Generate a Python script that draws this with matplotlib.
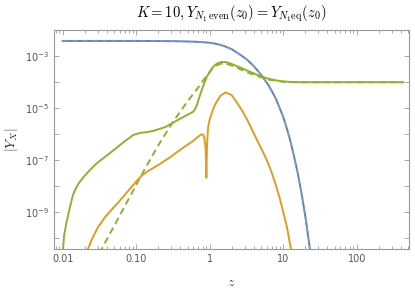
import numpy as np
import matplotlib
matplotlib.use("Agg")
import matplotlib.pyplot as plt
from matplotlib.ticker import FixedLocator, NullFormatter

# curves, as (log10 z, log10 |Y|)
blue_lz = [-2.0, -1.5, -1.0, -0.5, -0.2, 0.0, 0.1, 0.2, 0.3, 0.4, 0.5, 0.6, 0.7, 0.8, 0.9, 1.0, 1.05, 1.1, 1.15, 1.2, 1.25, 1.3, 1.35, 1.4]
blue_ly = [-2.43, -2.43, -2.43, -2.44, -2.46, -2.5, -2.55, -2.63, -2.75, -2.93, -3.13, -3.40, -3.73, -4.13, -4.65, -5.35, -5.8, -6.3, -6.9, -7.55, -8.3, -9.15, -10.15, -11.2]

green_lz = [-2.0, -1.98, -1.95, -1.9, -1.86, -1.82, -1.78, -1.72, -1.63, -1.54, -1.45, -1.3, -1.15, -1.04, -0.95, -0.85, -0.75, -0.6, -0.45, -0.3, -0.22, -0.18, -0.13, -0.08, -0.04, 0.0, 0.05, 0.1, 0.16, 0.23, 0.3, 0.37, 0.46, 0.55, 0.66, 0.78, 0.9, 1.0, 1.1, 1.2, 2.63]
green_ly = [-10.6, -9.9, -9.45, -8.81, -8.36, -8.1, -7.9, -7.68, -7.4, -7.15, -6.95, -6.62, -6.28, -6.05, -5.97, -5.94, -5.88, -5.74, -5.5, -5.27, -5.15, -4.95, -4.5, -4.1, -3.82, -3.62, -3.42, -3.3, -3.24, -3.25, -3.32, -3.4, -3.51, -3.62, -3.75, -3.87, -3.95, -3.99, -4.01, -4.02, -4.02]

gdash_lz = [-1.5, -1.3, -1.1, -0.9, -0.7, -0.5, -0.3, -0.15, -0.05, 0.05, 0.14, 0.22, 0.3, 0.45, 0.6, 0.8, 1.0, 1.2, 2.63]
gdash_ly = [-10.6, -9.55, -8.5, -7.45, -6.45, -5.55, -4.75, -4.2, -3.8, -3.45, -3.31, -3.3, -3.38, -3.56, -3.74, -3.92, -4.0, -4.02, -4.02]

orange_lz = [-1.68, -1.6, -1.52, -1.42, -1.32, -1.22, -1.1, -1.0, -0.93, -0.85, -0.75, -0.68, -0.55, -0.45, -0.33, -0.22, -0.15, -0.11, -0.085, -0.07, -0.055, -0.045, -0.038, -0.03, -0.02, 0.0, 0.03, 0.06, 0.095, 0.15, 0.22, 0.3, 0.37, 0.45, 0.52, 0.59, 0.65, 0.7, 0.75, 0.8, 0.85, 0.9, 0.95, 1.0, 1.05, 1.1, 1.12]
orange_ly = [-10.6, -10.05, -9.6, -9.2, -8.88, -8.57, -8.17, -7.84, -7.63, -7.46, -7.29, -7.17, -6.93, -6.72, -6.48, -6.27, -6.1, -6.02, -6.05, -6.2, -6.6, -7.7, -6.7, -6.1, -5.73, -5.45, -5.2, -4.97, -4.77, -4.53, -4.41, -4.52, -4.8, -5.15, -5.52, -5.93, -6.28, -6.56, -6.85, -7.17, -7.55, -7.98, -8.45, -9.0, -9.58, -10.35, -10.6]

xticks = [0.01, 0.1, 1, 10, 100]
xticklabels = ['0.01', '0.10', '1', '10', '100']
ypow_major = [-9, -7, -5, -3]
ypow_minor = [-10, -8, -6, -4, -2]

blue = '#5E81B5'
orange = '#E19C24'
green = '#8FB032'

fig = plt.figure(figsize=(4.15, 2.94), dpi=100)
ax = fig.add_axes([54/415, 1-249.3/294, 355/415, 219.3/294])

def p(lz, ly):
    return 10**np.array(lz), 10**np.array(ly)

ax.plot(*p(blue_lz, blue_ly), color=blue, lw=1.4)
ax.plot(*p(blue_lz, blue_ly), color='#7F9CC6', lw=1.0, ls=(0, (4, 3)))
ax.plot(*p(green_lz, green_ly), color=green, lw=1.4)
ax.plot(*p(gdash_lz, gdash_ly), color=green, lw=1.4, ls=(0, (3.5, 2.2)))
ax.plot(*p(orange_lz, orange_ly), color=orange, lw=1.4)

ax.set_xscale('log')
ax.set_yscale('log')
ax.set_xlim(10**-2.118, 10**2.712)
ax.set_ylim(10**-10.45, 10**-2.01)

ax.set_xticks(xticks)
ax.set_xticklabels(xticklabels)
ax.yaxis.set_major_locator(FixedLocator([10.0**k for k in ypow_major]))
ax.set_yticklabels([r'$10^{%d}$' % k for k in ypow_major])
ax.yaxis.set_minor_locator(FixedLocator([10.0**k for k in ypow_minor]))
ax.yaxis.set_minor_formatter(NullFormatter())

gray = '#999999'
for s in ax.spines.values():
    s.set_color(gray)
    s.set_linewidth(0.8)
ax.tick_params(which='both', direction='in', top=True, right=True, color=gray, labelcolor='#555555', labelsize=7, width=0.6)
ax.tick_params(which='major', length=3.5)
ax.tick_params(which='minor', length=2)
ax.tick_params(axis='y', which='minor', length=3.5)

ax.set_xlabel(r'$z$', fontsize=10, color='#333333', labelpad=8, math_fontfamily='cm')
ax.set_ylabel(r'$|Y_X|$', fontsize=10, color='#333333', math_fontfamily='cm')
ax.set_title(r'$K=10, Y_{N_1\,\mathrm{even}}(z_0)=Y_{N_1\mathrm{eq}}(z_0)$', fontsize=10.5, pad=9, math_fontfamily='cm')

fig.savefig('out.png', dpi=100)
